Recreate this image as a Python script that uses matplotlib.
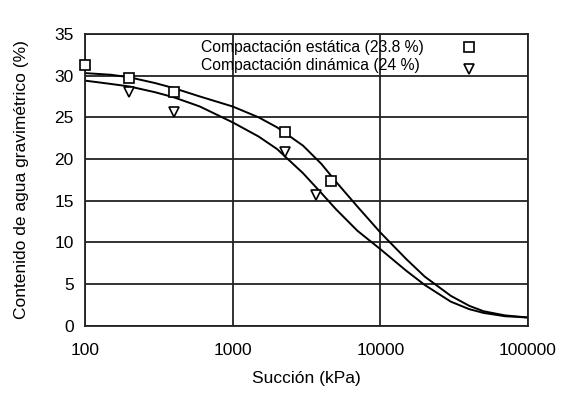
import matplotlib.pyplot as plt

plt.rcParams['font.family'] = ['Liberation Sans', 'DejaVu Sans']

# measured points
static_x = [100, 200, 400, 2280, 4670]
static_y = [31.3, 29.7, 28.0, 23.2, 17.4]

dynamic_x = [200, 400, 2250, 3700]
dynamic_y = [28.0, 25.6, 20.8, 15.7]

# fitted curves
curve_x = [100, 150, 200, 300, 400, 600, 1000, 1500, 2000, 3000, 4000,
           5000, 7000, 10000, 15000, 20000, 30000, 40000, 50000, 70000, 100000]
static_fit = [30.3, 30.1, 29.8, 29.1, 28.5, 27.5, 26.3, 25.0, 23.8, 21.6,
              19.4, 17.3, 14.3, 11.2, 8.0, 5.9, 3.6, 2.4, 1.75, 1.25, 1.0]
dynamic_fit = [29.4, 29.0, 28.7, 28.0, 27.4, 26.3, 24.4, 22.7, 21.2, 18.3,
               15.9, 14.0, 11.4, 9.2, 6.6, 4.9, 2.9, 2.0, 1.55, 1.15, 1.0]

labels = ['Compactación estática (23.8 %)', 'Compactación dinámica (24 %)']

fig = plt.figure(figsize=(5.69, 3.94), dpi=100)
ax = fig.add_axes([0.149, 0.173, 0.779, 0.741])

ax.plot(curve_x, static_fit, color='black', linewidth=1.4)
ax.plot(curve_x, dynamic_fit, color='black', linewidth=1.4)

ax.plot(static_x, static_y, linestyle='none', marker='s', markersize=7,
        markerfacecolor='white', markeredgecolor='black', markeredgewidth=1.2,
        clip_on=False, zorder=5)
ax.plot(dynamic_x, dynamic_y, linestyle='none', marker='v', markersize=7,
        markerfacecolor='white', markeredgecolor='black', markeredgewidth=1.2,
        clip_on=False, zorder=5)

# legend as text + markers
ax.text(0.262, 0.955, labels[0], transform=ax.transAxes, fontsize=11.3,
        va='center', ha='left')
ax.text(0.262, 0.893, labels[1], transform=ax.transAxes, fontsize=11.3,
        va='center', ha='left')
ax.plot([0.867], [0.955], transform=ax.transAxes, marker='s', markersize=7,
        markerfacecolor='white', markeredgecolor='black', markeredgewidth=1.2,
        linestyle='none', clip_on=False)
ax.plot([0.867], [0.88], transform=ax.transAxes, marker='v', markersize=7,
        markerfacecolor='white', markeredgecolor='black', markeredgewidth=1.2,
        linestyle='none', clip_on=False)

ax.set_xscale('log')
ax.set_xlim(100, 100000)
ax.set_ylim(0, 35)
ax.set_yticks(range(0, 36, 5))
ax.set_xticks([100, 1000, 10000, 100000])
ax.set_xticklabels(['100', '1000', '10000', '100000'])
ax.minorticks_off()
ax.tick_params(axis='y', length=0, labelsize=12.5, pad=8)
ax.tick_params(axis='x', length=0, labelsize=12.5, pad=12)

ax.grid(True, color='#222222', linewidth=1.3)
ax.set_axisbelow(True)
for s in ax.spines.values():
    s.set_linewidth(1.3)
    s.set_color('#222222')

ax.set_xlabel('Succión (kPa)', fontsize=12.5, labelpad=10)
ax.set_ylabel('Contenido de agua gravimétrico (%)', fontsize=12.5, labelpad=18)

plt.savefig('out.png', dpi=100)
